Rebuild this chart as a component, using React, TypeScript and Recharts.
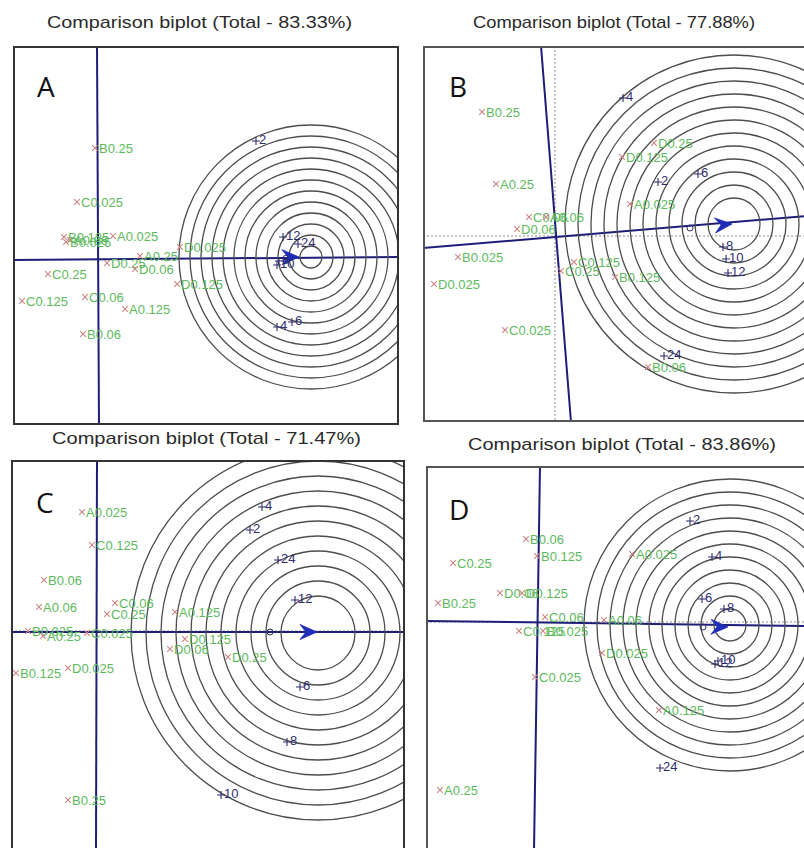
import React from 'react';
import { ScatterChart, Scatter, XAxis, YAxis, ReferenceLine } from 'recharts';

type Pt = [number, number, string];

// ---------- Panel A (Total 83.33%) ----------
const genotypesA: Pt[] = [
  [95, 148, 'B0.25'], [77, 202, 'C0.025'], [64, 237, 'B0.125'], [70, 240, 'A0.06'], [66, 242, 'B0.025'],
  [113, 236, 'A0.025'], [107, 263, 'D0.25'], [140, 256, 'A0.25'], [135, 269, 'D0.06'], [48, 274, 'C0.25'],
  [22, 301, 'C0.125'], [85, 297, 'C0.06'], [125, 309, 'A0.125'], [83, 334, 'B0.06'], [180, 247, 'D0.025'],
  [177, 284, 'D0.125'],
];
const environmentsA: Pt[] = [
  [256, 141, '2'], [283, 237, '12'], [298, 244, '24'], [279, 261, '8'], [277, 265, '10'], [277, 327, '4'], [292, 322, '6'],
];
const ringsA = [11, 22, 33, 44, 55, 66, 77, 88, 99, 110, 121, 132];

// ---------- Panel B (Total 77.88%) ----------
const genotypesB: Pt[] = [
  [482, 112, 'B0.25'], [496, 184, 'A0.25'], [529, 217, 'C0.06'], [546, 217, 'A0.06'], [517, 229, 'D0.06'],
  [458, 257, 'B0.025'], [434, 284, 'D0.025'], [505, 330, 'C0.025'], [574, 262, 'C0.125'], [561, 271, 'C0.25'],
  [615, 277, 'B0.125'], [630, 204, 'A0.025'], [622, 157, 'D0.125'], [654, 143, 'D0.25'], [648, 367, 'B0.06'],
];
const environmentsB: Pt[] = [
  [623, 98, '4'], [658, 182, '2'], [698, 174, '6'], [723, 247, '8'], [726, 259, '10'], [728, 273, '12'], [664, 356, '24'],
];
const ringsB = [26, 39, 52, 65, 78, 91, 104, 117, 130, 143, 156, 169];

// ---------- Panel C (Total 71.47%) ----------
const genotypesC: Pt[] = [
  [82, 512, 'A0.025'], [92, 545, 'C0.125'], [44, 580, 'B0.06'], [39, 607, 'A0.06'], [115, 603, 'C0.06'],
  [107, 614, 'C0.25'], [28, 631, 'B0.025'], [43, 636, 'A0.25'], [87, 633, 'C0.025'], [16, 673, 'B0.125'],
  [68, 668, 'D0.025'], [175, 612, 'A0.125'], [185, 639, 'D0.125'], [170, 649, 'D0.06'], [228, 657, 'D0.25'],
  [68, 800, 'B0.25'],
];
const environmentsC: Pt[] = [
  [262, 507, '4'], [250, 530, '2'], [278, 560, '24'], [295, 600, '12'], [300, 687, '6'], [287, 742, '8'], [221, 795, '10'],
];
const ringsC = [37, 52, 67, 82, 97, 112, 127, 142, 157, 172, 187];

// ---------- Panel D (Total 83.86%) ----------
const genotypesD: Pt[] = [
  [526, 539, 'B0.06'], [537, 556, 'B0.125'], [453, 563, 'C0.25'], [500, 593, 'D0.06'], [522, 593, 'D0.125'],
  [438, 603, 'B0.25'], [545, 617, 'C0.06'], [519, 631, 'C0.125'], [543, 631, 'B0.025'], [604, 620, 'A0.06'],
  [602, 653, 'D0.025'], [535, 677, 'C0.025'], [659, 710, 'A0.125'], [632, 554, 'A0.025'], [440, 790, 'A0.25'],
];
const environmentsD: Pt[] = [
  [690, 521, '2'], [712, 557, '4'], [702, 599, '6'], [724, 609, '8'], [718, 661, '10'], [715, 664, '12'], [660, 768, '24'],
];
const ringsD = [16, 29, 42, 55, 68, 81, 94, 107, 120, 133, 146];

const titles = ['Comparison biplot (Total - 83.33%)', 'Comparison biplot (Total - 77.88%)', 'Comparison biplot (Total - 71.47%)', 'Comparison biplot (Total - 83.86%)'];
const letters = ['A', 'B', 'C', 'D'];

type Seg = [number, number, number, number];
interface PanelCfg {
  box: [number, number, number, number]; // left, top, right, bottom
  border: string;
  genos: Pt[];
  envs: Pt[];
  rings: number[];
  ringCenter: [number, number];
  axes: Seg[];
  dotted: Seg[];
  arrowTip: [number, number];
  origin?: [number, number];
}

const panels: PanelCfg[] = [
  {
    box: [13, 46, 399, 425], border: '#333', genos: genotypesA, envs: environmentsA, rings: ringsA,
    ringCenter: [311, 257], axes: [[13, 260, 399, 257], [97, 46, 99, 425]], dotted: [], arrowTip: [299, 257],
  },
  {
    box: [423, 46, 806, 422], border: '#555', genos: genotypesB, envs: environmentsB, rings: ringsB,
    ringCenter: [734, 224], axes: [[423, 248, 806, 216], [541, 46, 571, 422]],
    dotted: [[555, 46, 555, 422], [423, 236, 806, 236]], arrowTip: [732, 224], origin: [690, 228],
  },
  {
    box: [11, 460, 405, 850], border: '#333', genos: genotypesC, envs: environmentsC, rings: ringsC,
    ringCenter: [318, 633], axes: [[11, 632, 405, 632], [97, 460, 96, 850]],
    dotted: [[11, 631, 405, 631]], arrowTip: [317, 632], origin: [270, 632],
  },
  {
    box: [426, 466, 806, 850], border: '#555', genos: genotypesD, envs: environmentsD, rings: ringsD,
    ringCenter: [730, 625], axes: [[426, 621, 806, 626], [540, 466, 534, 850]],
    dotted: [[426, 622, 806, 622]], arrowTip: [728, 627], origin: [703, 627],
  },
];

const FONT = 'Liberation Sans, Arial, sans-serif';

const toObjs = (pts: Pt[]) => pts.map(([x, y, label]) => ({ x, y, label }));

const GenoShape = (props: any) => {
  const { cx, cy, payload } = props;
  if (cx == null || cy == null) return null;
  const s = 2.8;
  return (
    <g>
      <path d={`M${cx - s},${cy - s}L${cx + s},${cy + s}M${cx - s},${cy + s}L${cx + s},${cy - s}`} stroke="#c98585" strokeWidth={1.1} />
      <text x={cx + 4} y={cy + 4.5} fontSize={13} fill="#5cba5c" fontFamily={FONT}>{payload.label}</text>
    </g>
  );
};

const EnvShape = (props: any) => {
  const { cx, cy, payload } = props;
  if (cx == null || cy == null) return null;
  const s = 4;
  return (
    <g>
      <path d={`M${cx - s},${cy}L${cx + s},${cy}M${cx},${cy - s}L${cx},${cy + s}`} stroke="#2d2d6e" strokeWidth={1.1} />
      <text x={cx + 3} y={cy + 3} fontSize={13} fill="#2d2d6e" fontFamily={FONT}>{payload.label}</text>
    </g>
  );
};

const makeRingShape = (radii: number[]) => (props: any) => {
  const { cx, cy } = props;
  if (cx == null || cy == null) return null;
  return (
    <g>
      {radii.map((r) => (
        <circle key={r} cx={cx} cy={cy} r={r} fill="none" stroke="#4d4d4d" strokeWidth={1.3} />
      ))}
    </g>
  );
};

const ArrowShape = (props: any) => {
  const { cx, cy, payload } = props;
  if (cx == null || cy == null) return null;
  const a = payload.angle;
  const pts = [[0, 0], [-17, -7.5], [-11, 0], [-17, 7.5]]
    .map(([px, py]) => `${cx + px * Math.cos(a) - py * Math.sin(a)},${cy + px * Math.sin(a) + py * Math.cos(a)}`)
    .join(' ');
  return <polygon points={pts} fill="#1f2cb8" stroke="#1f2cb8" strokeWidth={0.8} strokeLinejoin="round" />;
};

const OriginShape = (props: any) => {
  const { cx, cy } = props;
  if (cx == null || cy == null) return null;
  return <circle cx={cx} cy={cy} r={3} fill="none" stroke="#2d2d6e" strokeWidth={1} />;
};

const Panel = ({ cfg }: { cfg: PanelCfg }) => {
  const [l, t, r, b] = cfg.box;
  const w = r - l;
  const h = b - t;
  const main = cfg.axes[0];
  const angle = Math.atan2(main[3] - main[1], main[2] - main[0]);
  return (
    <div style={{ position: 'absolute', left: l, top: t, width: w, height: h, overflow: 'hidden' }}>
      <ScatterChart width={w} height={h} margin={{ top: 0, right: 0, bottom: 0, left: 0 }}>
        <XAxis type="number" dataKey="x" domain={[l, r]} allowDataOverflow hide />
        <YAxis type="number" dataKey="y" domain={[t, b]} reversed allowDataOverflow hide />
        <Scatter data={[{ x: cfg.ringCenter[0], y: cfg.ringCenter[1] }]} shape={makeRingShape(cfg.rings)} isAnimationActive={false} />
        {cfg.dotted.map((s, i) => (
          <ReferenceLine key={'d' + i} segment={[{ x: s[0], y: s[1] }, { x: s[2], y: s[3] }]} stroke="#8a8a8a" strokeWidth={1} strokeDasharray="2 2" ifOverflow="visible" />
        ))}
        {cfg.axes.map((s, i) => (
          <ReferenceLine key={'a' + i} segment={[{ x: s[0], y: s[1] }, { x: s[2], y: s[3] }]} stroke="#1e1e7a" strokeWidth={2} ifOverflow="visible" />
        ))}
        {cfg.origin && (
          <Scatter data={[{ x: cfg.origin[0], y: cfg.origin[1] }]} shape={OriginShape} isAnimationActive={false} />
        )}
        <Scatter data={[{ x: cfg.arrowTip[0], y: cfg.arrowTip[1], angle }]} shape={ArrowShape} isAnimationActive={false} />
        <Scatter data={toObjs(cfg.genos)} shape={GenoShape} isAnimationActive={false} />
        <Scatter data={toObjs(cfg.envs)} shape={EnvShape} isAnimationActive={false} />
      </ScatterChart>
      <div style={{ position: 'absolute', left: 0, top: 0, width: w, height: h, border: `2px solid ${cfg.border}`, boxSizing: 'border-box', pointerEvents: 'none' }} />
    </div>
  );
};

const titlePos: [number, number, number][] = [
  [47, 28, 305], [473, 28, 282], [52, 444, 309], [468, 450, 308],
];
const letterPos: [number, number][] = [
  [37, 97], [449, 97], [36, 513], [449, 520],
];

export default function App() {
  return (
    <div style={{ position: 'absolute', left: 0, top: 0, width: 804, height: 848, background: '#fff', overflow: 'hidden' }}>
      {panels.map((p, i) => (
        <Panel key={i} cfg={p} />
      ))}
      <svg width={804} height={848} style={{ position: 'absolute', left: 0, top: 0, pointerEvents: 'none' }}>
        {titles.map((tt, i) => (
          <text key={tt} x={titlePos[i][0]} y={titlePos[i][1]} textLength={titlePos[i][2]} lengthAdjust="spacingAndGlyphs" fontSize={17} fontFamily={FONT} fill="#2a2a2a">
            {tt}
          </text>
        ))}
        {letters.map((lt, i) => (
          <text key={lt} x={letterPos[i][0]} y={letterPos[i][1]} fontSize={28} fontFamily="Open Sans, sans-serif" fill="#111">
            {lt}
          </text>
        ))}
      </svg>
    </div>
  );
}
